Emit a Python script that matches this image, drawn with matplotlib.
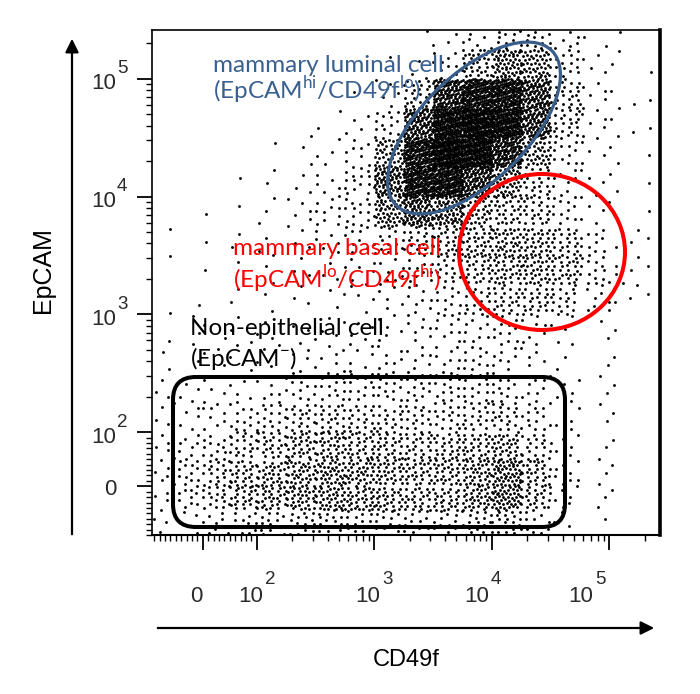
import numpy as np
import matplotlib
matplotlib.use("Agg")
import matplotlib.pyplot as plt
from matplotlib.patches import Ellipse, FancyBboxPatch, FancyArrowPatch

# bin edges (data units) of the dot plot
cd49f_edges = [-90, -45, 0, 50, 100, 178, 316, 562, 1000, 1778, 3162, 5623,
               10000, 17783, 31623, 56234, 100000, 177828, 270000]
epcam_edges = [-88, -44, 0, 50, 100, 178, 316, 562, 1000, 1778, 3162, 5623,
               10000, 17783, 31623, 56234, 100000, 177828, 260000]

# events per bin
# rows: EpCAM high -> low, columns: CD49f low -> high
event_counts = [
    [0, 0, 0, 0, 0, 0, 0, 0, 0, 1, 3, 6, 10, 12, 6, 2, 1, 0],
    [0, 0, 0, 0, 0, 0, 0, 0, 1, 3, 12, 35, 60, 50, 15, 4, 2, 1],
    [0, 0, 0, 0, 0, 0, 0, 1, 5, 25, 120, 170, 170, 100, 25, 6, 3, 1],
    [0, 0, 0, 0, 0, 1, 2, 4, 15, 100, 200, 230, 200, 100, 22, 6, 3, 1],
    [0, 0, 0, 0, 1, 2, 4, 8, 45, 160, 240, 220, 130, 45, 12, 5, 2, 1],
    [0, 0, 0, 1, 2, 3, 6, 15, 80, 170, 180, 110, 50, 22, 8, 4, 2, 1],
    [0, 0, 1, 1, 3, 5, 10, 15, 55, 90, 70, 40, 30, 25, 12, 5, 2, 1],
    [1, 0, 1, 2, 3, 4, 6, 10, 15, 22, 30, 35, 40, 35, 25, 12, 4, 1],
    [1, 0, 1, 1, 2, 3, 4, 6, 8, 12, 20, 30, 35, 35, 30, 15, 5, 1],
    [1, 1, 0, 2, 2, 3, 3, 4, 5, 8, 12, 20, 25, 25, 20, 8, 3, 1],
    [1, 2, 2, 3, 3, 4, 4, 5, 6, 8, 10, 10, 12, 8, 4, 2, 1, 0],
    [2, 2, 3, 3, 4, 5, 6, 6, 8, 8, 10, 12, 10, 6, 3, 1, 1, 0],
    [3, 4, 5, 6, 8, 12, 14, 14, 14, 14, 14, 14, 14, 10, 5, 2, 1, 0],
    [4, 5, 8, 12, 16, 22, 24, 22, 20, 18, 18, 20, 22, 14, 5, 2, 1, 0],
    [5, 8, 14, 20, 26, 32, 34, 30, 26, 24, 26, 30, 36, 20, 6, 2, 1, 0],
    [6, 12, 20, 28, 34, 40, 44, 40, 34, 30, 32, 40, 55, 30, 8, 2, 1, 0],
    [5, 10, 18, 26, 30, 36, 38, 34, 30, 26, 28, 38, 50, 26, 6, 2, 1, 0],
    [3, 5, 8, 12, 14, 16, 16, 14, 12, 12, 12, 16, 20, 10, 3, 1, 0, 0],
]

major_ticks = [0, 100, 1000, 10000, 100000]
tick_base = ["0", "10", "10", "10", "10"]
tick_exp = ["", "2", "3", "4", "5"]
x_label_dx = [-6, 6, 6, -3, -16]   # pixel nudges of the x tick labels

plt.rcParams["font.family"] = ["Liberation Sans", "DejaVu Sans"]
plt.rcParams["mathtext.fontset"] = "custom"
plt.rcParams["mathtext.rm"] = "Lato"

W, H = 700, 694
fig = plt.figure(figsize=(W / 100, H / 100), dpi=100)
ax = fig.add_axes([152 / W, 1 - 535 / H, 508 / W, 505 / H])
ax.set_xscale("symlog", linthresh=100, linscale=0.414)
ax.set_yscale("symlog", linthresh=100, linscale=0.414)
ax.set_xlim(-94, 2.7e5)
ax.set_ylim(-88, 2.6e5)

# spread each bin's events over the bin (in scale space), deterministic layout
tx = ax.xaxis.get_transform()
ty = ax.yaxis.get_transform()
xe = tx.transform(np.array(cd49f_edges, dtype=float))
ye = ty.transform(np.array(epcam_edges, dtype=float))
counts = np.array(event_counts)[::-1]
g1, g2 = 0.7548776662466927, 0.5698402909980532
xs, ys = [], []
for i in range(counts.shape[0]):
    for j in range(counts.shape[1]):
        n = counts[i, j]
        if n == 0:
            continue
        k = np.arange(n) + 97 * (i * counts.shape[1] + j)
        u = (0.5 + k * g1) % 1.0
        v = (0.5 + k * g2) % 1.0
        xs.append(xe[j] + u * (xe[j + 1] - xe[j]))
        ys.append(ye[i] + v * (ye[i + 1] - ye[i]))
xs = tx.inverted().transform(np.concatenate(xs))
ys = ty.inverted().transform(np.concatenate(ys))
ax.scatter(xs, ys, s=4.2, marker="o", c="black", linewidths=0, zorder=2)

# ticks
minor = ([m for m in range(-90, 100, 10) if m != 0]
         + [m * 10 ** e for e in (2, 3, 4) for m in range(2, 10)] + [200000])
for axis in (ax.xaxis, ax.yaxis):
    axis.set_ticks(major_ticks)
    axis.set_ticks(minor, minor=True)
ax.tick_params(which="major", direction="out", length=11, width=1.3,
               labelbottom=False, labelleft=False)
ax.tick_params(which="minor", direction="out", length=4, width=1.0)
ax.tick_params(top=False, right=False)

lab = dict(color="#2a2a2a", textcoords="offset pixels", va="center")
for v, b, e, dx in zip(major_ticks, tick_base, tick_exp, x_label_dx):
    xy_x = dict(xy=(v, 0), xycoords=("data", "axes fraction"))
    xy_y = dict(xy=(0, v), xycoords=("axes fraction", "data"))
    if e:
        ax.annotate(b, xytext=(dx, -62), ha="right", fontsize=16, **xy_x, **lab)
        ax.annotate(e, xytext=(dx + 2, -45), ha="left", fontsize=13.5, **xy_x, **lab)
        ax.annotate(b, xytext=(-36, -5), ha="right", fontsize=16, **xy_y, **lab)
        ax.annotate(e, xytext=(-35, 10), ha="left", fontsize=13.5, **xy_y, **lab)
    else:
        ax.annotate(b, xytext=(dx, -62), ha="center", fontsize=16, **xy_x, **lab)
        ax.annotate(b, xytext=(-42, -3), ha="center", fontsize=16, **xy_y, **lab)

ax.spines["left"].set_linewidth(1.2)
ax.spines["top"].set_linewidth(1.2)
ax.spines["bottom"].set_linewidth(1.5)
ax.spines["right"].set_linewidth(2.6)


def px(x, y):
    # figure pixel -> axes fraction
    return (x - 152) / 508, (535 - y) / 505


# gates
cx, cy = px(474, 128)
ax.add_patch(Ellipse((cx, cy), 220 / 508, 106 / 505, angle=45,
                     transform=ax.transAxes, fill=False, ec="#385D8A", lw=2.3, zorder=3))
cx, cy = px(542, 252)
ax.add_patch(Ellipse((cx, cy), 166 / 508, 156 / 505, transform=ax.transAxes,
                     fill=False, ec="#FF0000", lw=2.9, zorder=3))
x0, y0 = px(173, 527)
ax.add_patch(FancyBboxPatch((x0, y0), 392 / 508, 150 / 505,
                            boxstyle="round,pad=0,rounding_size=0.045",
                            transform=ax.transAxes, fill=False, ec="black",
                            lw=2.9, zorder=3))

gate_font = dict(family=["Lato", "DejaVu Sans"], fontsize=17.5, va="baseline", ha="left")
fig.text(213 / W, 1 - 72 / H, "mammary luminal cell", color="#3A6090", **gate_font)
fig.text(213 / W, 1 - 99 / H, r"(EpCAM$^{\mathregular{hi}}$/CD49f$^{\mathregular{lo}}$)",
         color="#3A6090", **gate_font)
fig.text(233 / W, 1 - 255 / H, "mammary basal cell", color="#FF0000", **gate_font)
fig.text(233 / W, 1 - 288 / H, r"(EpCAM$^{\mathregular{lo}}$/CD49f$^{\mathregular{hi}}$)",
         color="#FF0000", **gate_font)
fig.text(190 / W, 1 - 335 / H, "Non-epithelial cell", color="black", **gate_font)
fig.text(190 / W, 1 - 366 / H, r"(EpCAM$^{\mathregular{-}}$)", color="black", **gate_font)

# axis arrows and titles
fig.add_artist(FancyArrowPatch(
    (72 / W, 1 - 537 / H), (72 / W, 1 - 36 / H), transform=fig.transFigure,
    arrowstyle="-|>", mutation_scale=20, lw=1.6, color="black"))
fig.add_artist(FancyArrowPatch(
    (155 / W, 1 - 628 / H), (657 / W, 1 - 628 / H), transform=fig.transFigure,
    arrowstyle="-|>", mutation_scale=20, lw=1.6, color="black"))
fig.text(43 / W, 1 - 270 / H, "EpCAM", rotation=90, ha="center", va="center", fontsize=18)
fig.text(406 / W, 1 - 660 / H, "CD49f", ha="center", va="center", fontsize=17)

fig.savefig("out.png", dpi=100)
